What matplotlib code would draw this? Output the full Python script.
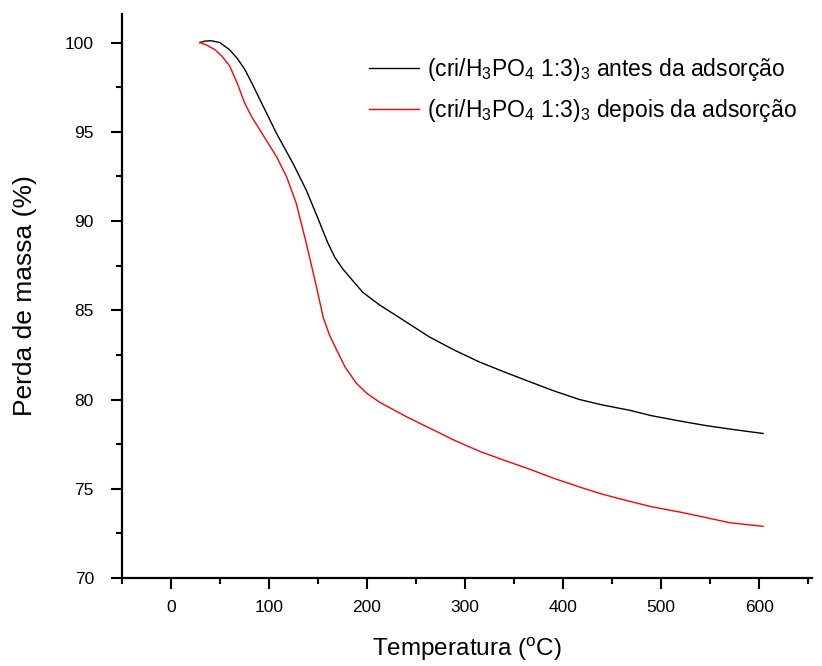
import matplotlib
matplotlib.use("Agg")
import matplotlib.pyplot as plt
from matplotlib.ticker import MultipleLocator

plt.rcParams['font.family'] = ['Liberation Sans', 'DejaVu Sans']
plt.rcParams['mathtext.fontset'] = 'custom'
plt.rcParams['mathtext.rm'] = 'Liberation Sans'
plt.rcParams['mathtext.it'] = 'Liberation Sans'

# TGA curves
temp_antes = [29.6, 35, 41.5, 50, 60, 68, 75.5, 83, 91, 108, 125, 138.5, 152, 160, 167, 175, 185, 196, 213, 240, 264, 290, 315, 340, 366, 390, 417, 440, 468, 490, 519, 545, 570, 604]
massa_antes = [100.0, 100.08, 100.1, 100.0, 99.6, 99.1, 98.5, 97.7, 96.8, 94.9, 93.2, 91.7, 89.9, 88.8, 88.0, 87.35, 86.7, 86.0, 85.3, 84.35, 83.5, 82.75, 82.1, 81.55, 81.0, 80.5, 80.0, 79.7, 79.4, 79.1, 78.8, 78.55, 78.35, 78.1]

temp_depois = [29.6, 37, 45, 52, 60, 68, 75.5, 83, 91, 108, 118, 128, 138.5, 148.7, 155.5, 162, 169, 178, 189.5, 200, 213, 240, 264, 290, 315, 340, 366, 390, 417, 440, 468, 490, 519, 545, 570, 604]
massa_depois = [100.0, 99.85, 99.6, 99.25, 98.7, 97.7, 96.6, 95.8, 95.1, 93.6, 92.5, 91.0, 88.7, 86.3, 84.6, 83.6, 82.8, 81.8, 80.9, 80.35, 79.85, 79.05, 78.4, 77.7, 77.1, 76.6, 76.1, 75.6, 75.1, 74.7, 74.3, 74.0, 73.7, 73.4, 73.1, 72.9]

label_antes = r'(cri/H$_3$PO$_4$ 1:3)$_3$ antes da adsorção'
label_depois = r'(cri/H$_3$PO$_4$ 1:3)$_3$ depois da adsorção'

fig = plt.figure(figsize=(8.22, 6.66), dpi=100)
ax = fig.add_axes([0.148, 0.132, 0.84, 0.847])

ax.plot(temp_antes, massa_antes, color='black', lw=1.0, label=label_antes)
ax.plot(temp_depois, massa_depois, color='red', lw=1.0, label=label_depois)

ax.set_xlim(-50, 654)
ax.set_ylim(70, 101.6)
ax.xaxis.set_major_locator(MultipleLocator(100))
ax.xaxis.set_minor_locator(MultipleLocator(50))
ax.yaxis.set_major_locator(MultipleLocator(5))
ax.yaxis.set_minor_locator(MultipleLocator(2.5))

for s in ['top', 'right']:
    ax.spines[s].set_visible(False)
for s in ['left', 'bottom']:
    ax.spines[s].set_linewidth(1.6)

ax.tick_params(which='major', direction='out', length=8, width=1.5, labelsize=12.5, pad=8)
ax.tick_params(which='minor', direction='out', length=4, width=1.5)
ax.tick_params(axis='y', which='major', pad=12)

ax.set_xlabel(r'Temperatura ($\mathregular{^o}$C)', fontsize=17.5, labelpad=15)
ax.set_ylabel('Perda de massa (%)', fontsize=19, labelpad=20)

ax.legend(loc='upper left', bbox_to_anchor=(0.358, 0.925), frameon=False, fontsize=16.5,
          borderpad=0, borderaxespad=0,
          handlelength=2.2, handletextpad=0.35, labelspacing=0.6)

fig.savefig('out.png', dpi=100)
